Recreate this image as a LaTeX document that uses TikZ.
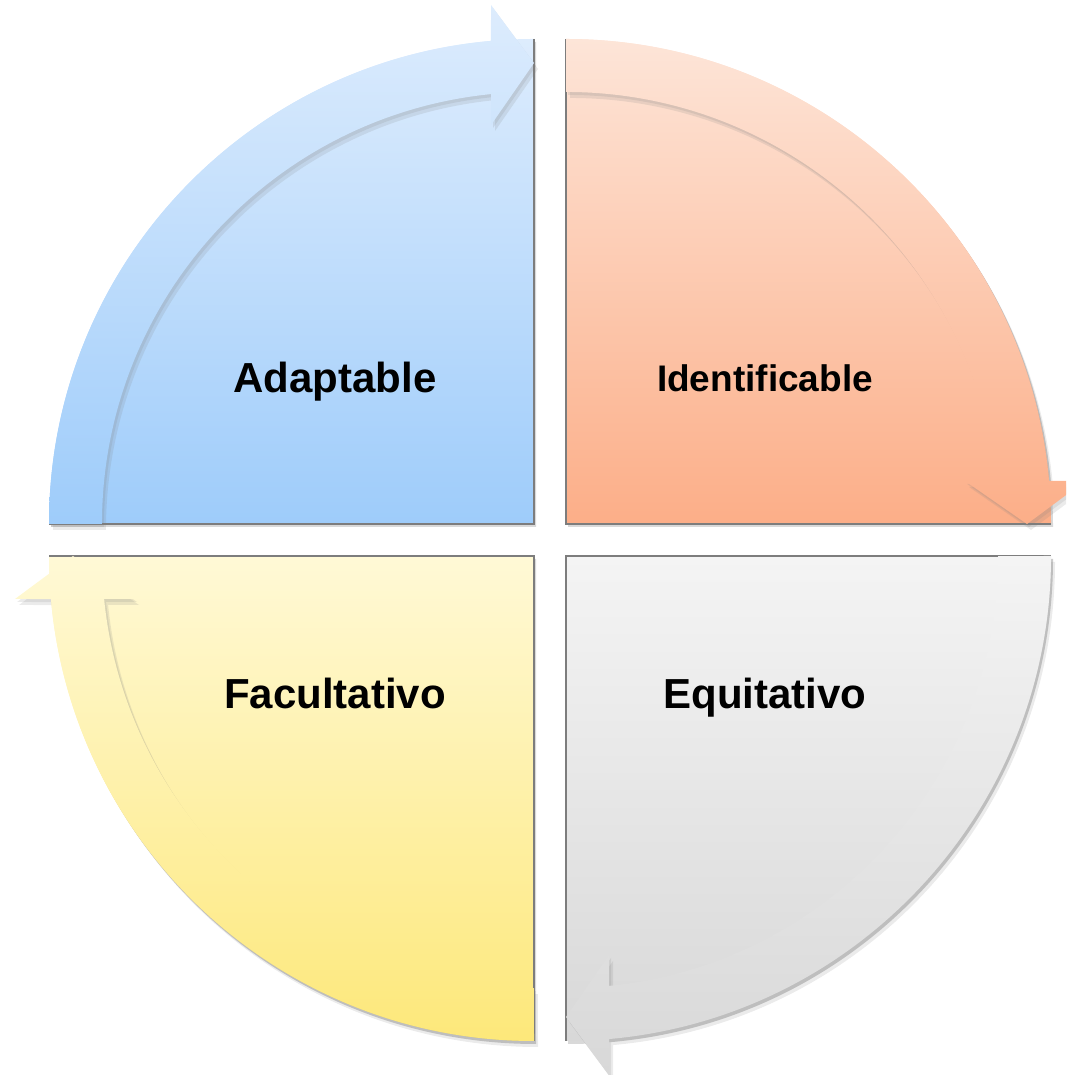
\documentclass[tikz,border=0pt]{standalone}
\usepackage{fontspec}
\setmainfont{Liberation Sans}
\usetikzlibrary{shadows}
\definecolor{blueT}{RGB}{221,236,253}
\definecolor{blueB}{RGB}{158,204,250}
\definecolor{orgT}{RGB}{253,229,216}
\definecolor{orgB}{RGB}{252,174,136}
\definecolor{grayT}{RGB}{244,244,244}
\definecolor{grayB}{RGB}{216,216,216}
\definecolor{yelT}{RGB}{255,249,214}
\definecolor{yelB}{RGB}{253,232,122}
\definecolor{edge}{RGB}{125,125,125}
\tikzset{
  pie/.style={drop shadow={opacity=0.3, shadow xshift=2pt, shadow yshift=-3pt}},
  pieedge/.style={draw=edge, line width=1.2pt},
  band/.style={drop shadow={opacity=0.16, shadow xshift=2pt, shadow yshift=-3pt},
               drop shadow={opacity=0.16, shadow xshift=4pt, shadow yshift=-6pt}},
  lab/.style={font=\bfseries\fontsize{42}{50}\selectfont, text=black, inner sep=0pt, anchor=base},
}
\begin{document}
\begin{tikzpicture}[x=1pt,y=1pt]
\useasboundingbox (0,0) rectangle (1066,1075);
\clip (0,0) rectangle (1066,1075);
% Blue (top-left)
\begin{scope}[shift={(534,551)}]
  \path[pie, top color=blueT, bottom color=blueB] (0,0) -- (180:485) arc[start angle=180, end angle=90, radius=485] -- cycle;
  \draw[pieedge] (0,485) -- (0,0) -- (-485,0);
  \path[band, top color=blueT, bottom color=blueB]
    (180:485) arc[start angle=180, end angle=95.09, radius=485] -- (-43,519) -- (0,461) -- (-43,399) -- (-43,429.9)
    arc[start angle=95.71, end angle=180, radius=432] -- cycle;
\end{scope}
% Orange (top-right)
\begin{scope}[shift={(566,551)}]
  \path[pie, top color=orgT, bottom color=orgB] (0,0) -- (90:485) arc[start angle=90, end angle=0, radius=485] -- cycle;
  \draw[pieedge] (0,485) -- (0,0) -- (485,0);
  \path[band, top color=orgT, bottom color=orgB]
    (90:485) arc[start angle=90, end angle=5.09, radius=485] -- (519,43) -- (461,0) -- (399,43) -- (429.9,43)
    arc[start angle=5.71, end angle=90, radius=432] -- cycle;
\end{scope}
% Gray (bottom-right)
\begin{scope}[shift={(566,519)}]
  \path[pie, top color=grayT, bottom color=grayB] (0,0) -- (0:485) arc[start angle=0, end angle=-90, radius=485] -- cycle;
  \draw[pieedge] (485,0) -- (0,0) -- (0,-485);
  \path[band, top color=grayT, bottom color=grayB]
    (0:485) arc[start angle=0, end angle=-84.91, radius=485] -- (43,-519) -- (0,-461) -- (43,-399) -- (43,-429.9)
    arc[start angle=-84.29, end angle=0, radius=432] -- cycle;
\end{scope}
% Yellow (bottom-left)
\begin{scope}[shift={(534,519)}]
  \path[pie, top color=yelT, bottom color=yelB] (0,0) -- (-90:485) arc[start angle=-90, end angle=-180, radius=485] -- cycle;
  \draw[pieedge] (0,-485) -- (0,0) -- (-485,0);
  \path[band, top color=yelT, bottom color=yelB]
    (-90:485) arc[start angle=-90, end angle=-174.91, radius=485] -- (-519,-43) -- (-461,0) -- (-399,-43) -- (-429.9,-43)
    arc[start angle=-174.29, end angle=-90, radius=432] -- cycle;
\end{scope}
\node[lab] (adaptable) at (335,682) {Adaptable};
\node[lab, font=\bfseries\fontsize{37}{44}\selectfont] (identificable) at (765,683) {Identificable};
\node[lab] (facultativo) at (335,366) {Facultativo};
\node[lab] (equitativo) at (765,366) {Equitativo};
\end{tikzpicture}
\end{document}
